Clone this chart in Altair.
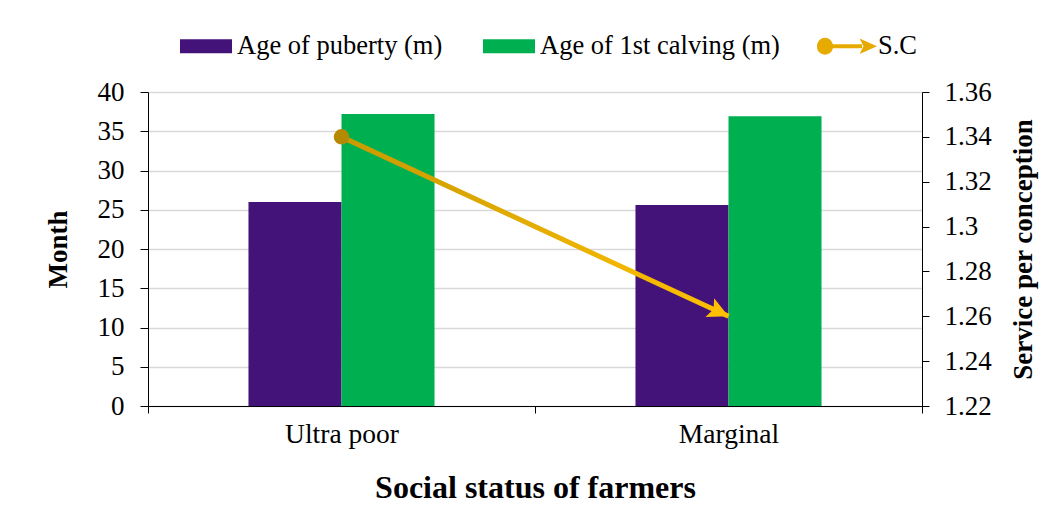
import math
import altair as alt
import pandas as pd

# ---- data ----
categories = ["Ultra poor", "Marginal"]
puberty = [26.0, 25.6]
calving = [37.2, 36.9]
service_per_conception = [1.34, 1.26]
series_names = ["Age of puberty (m)", "Age of 1st calving (m)", "S.C"]
left_ticks = [0, 5, 10, 15, 20, 25, 30, 35, 40]
right_ticks = [1.22, 1.24, 1.26, 1.28, 1.30, 1.32, 1.34, 1.36]

# ---- styling ----
FONT = "Liberation Serif"
PURPLE = "#43137A"
GREEN = "#00B050"
GOLD_DARK = "#B58900"
GOLD = "#FFC000"
W, H = 774, 314
LABEL_SIZE = 27

bar_rows = []
for i, c in enumerate(categories):
    bar_rows.append({"cat": c, "series": series_names[0], "value": puberty[i], "col": PURPLE})
    bar_rows.append({"cat": c, "series": series_names[1], "value": calving[i], "col": GREEN})
bars_df = pd.DataFrame(bar_rows)
sc_df = pd.DataFrame({"cat": categories, "sc": service_per_conception})
legend_df = pd.DataFrame({"series": series_names})

x_enc = alt.X(
    "cat:N",
    sort=categories,
    scale=alt.Scale(paddingInner=0, paddingOuter=0),
    axis=alt.Axis(
        title="Social status of farmers",
        titleFont=FONT, titleFontSize=32, titleFontWeight="bold", titleColor="black",
        titlePadding=25,
        labelFont=FONT, labelFontSize=27.5, labelColor="black", labelAngle=0,
        labelPadding=7, tickSize=7, tickColor="black", domainColor="black",
        tickBand="extent", grid=False,
    ),
)

# two empty slots around the pair of bars give the gap between groups
offset_domain = ["_gap_left", series_names[0], series_names[1], "_gap_right"]
bars = alt.Chart(bars_df).mark_bar().encode(
    x=x_enc,
    xOffset=alt.XOffset("series:N",
                        scale=alt.Scale(domain=offset_domain, paddingInner=0, paddingOuter=0.08)),
    y=alt.Y(
        "value:Q",
        scale=alt.Scale(domain=[0, 40], nice=False),
        axis=alt.Axis(
            title="Month", values=left_ticks,
            titleFont=FONT, titleFontSize=27, titleFontWeight="bold", titleColor="black",
            titlePadding=25,
            labelFont=FONT, labelFontSize=LABEL_SIZE, labelColor="black", labelPadding=16,
            tickSize=8, tickColor="black", domainColor="black",
            grid=True, gridColor="#D9D9D9", gridWidth=1.5,
        ),
    ),
    color=alt.Color("col:N", scale=None),
)

# Legend (merged colour + shape legend for all three series)
swatch = "M-0.867,-0.233 H0.867 V0.233 H-0.867 Z"
sc_symbol = (
    "M-0.467,0 A0.267,0.267 0 1,1 -1,0 A0.267,0.267 0 1,1 -0.467,0 Z "
    "M-0.733,-0.07 H0.5 V0.07 H-0.733 Z "
    "M0.42,-0.26 L1,0 L0.42,0.26 L0.55,0 Z"
)
legend_props = dict(
    title=None, orient="none", legendX=28, legendY=-76, direction="horizontal",
    labelFont=FONT, labelFontSize=26.5, labelColor="black", labelOffset=1, labelLimit=0,
    symbolSize=3600, symbolStrokeWidth=0, columnPadding=36, padding=0,
    symbolOpacity=1,
)
legend_layer = alt.Chart(legend_df).mark_point(filled=True, opacity=0).encode(
    x=alt.value(0),
    y=alt.value(0),
    color=alt.Color("series:N", scale=alt.Scale(domain=series_names,
                    range=[PURPLE, GREEN, "#E6AA00"]), legend=alt.Legend(**legend_props)),
    shape=alt.Shape("series:N", scale=alt.Scale(domain=series_names,
                    range=[swatch, swatch, sc_symbol]), legend=alt.Legend(**legend_props)),
)

y_right = alt.Y(
    "sc:Q",
    scale=alt.Scale(domain=[1.22, 1.36], nice=False, zero=False),
    axis=alt.Axis(
        orient="right", title="Service per conception", values=right_ticks,
        labelExpr="format(datum.value, '.2~f')",
        titleFont=FONT, titleFontSize=27, titleFontWeight="bold", titleColor="black",
        titleAngle=270, titleBaseline="top", titlePadding=19,
        labelFont=FONT, labelFontSize=LABEL_SIZE, labelColor="black", labelPadding=15,
        tickSize=7, tickColor="black", domainColor="black", grid=False,
    ),
)

line = alt.Chart(sc_df).mark_line(
    strokeWidth=5,
    color=alt.Gradient(
        gradient="linear",
        stops=[alt.GradientStop(color="#C99A00", offset=0),
               alt.GradientStop(color=GOLD, offset=1)],
        x1=0, x2=1, y1=0, y2=0,
    ),
).encode(x=x_enc, y=y_right)

start_pt = alt.Chart(sc_df.iloc[[0]]).mark_point(
    shape="circle", filled=True, size=240, color=GOLD_DARK, opacity=1
).encode(x=x_enc, y=y_right)

# arrow head orientation follows the segment direction in pixel space
dy_px = (service_per_conception[0] - service_per_conception[1]) / (right_ticks[-1] - right_ticks[0]) * H
dx_px = W / len(categories)
arrow_angle = math.degrees(math.atan2(dy_px, dx_px))
arrow_path = "M0,0 L-1,-0.5 L-0.8,0 L-1,0.5 Z"
end_pt = alt.Chart(sc_df.iloc[[1]]).mark_point(
    shape=arrow_path, filled=True, size=1700, color=GOLD, opacity=1, angle=arrow_angle
).encode(x=x_enc, y=y_right)

left = alt.layer(bars, legend_layer)
right = alt.layer(line, start_pt, end_pt)

chart = alt.layer(left, right).resolve_scale(y="independent").properties(
    width=W, height=H,
    autosize=alt.AutoSizeParams(type="none"),
    padding={"left": 140, "top": 84, "right": 123, "bottom": 100},
    background="white",
).configure_view(stroke=None)

chart.save("out.html", embed_options={"renderer": "svg", "actions": False})
